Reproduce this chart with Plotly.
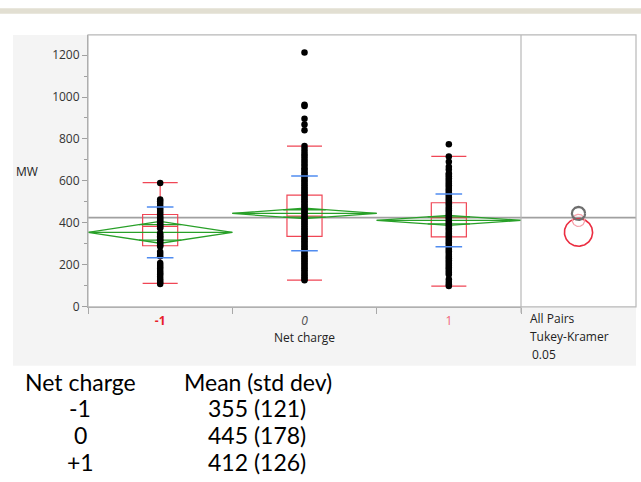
import numpy as np
import plotly.graph_objects as go

W, H = 641, 482

# ---------------- data ----------------
categories = [-1, 0, 1]
cat_labels = ['<span style="color:#e8202a"><b>-1</b></span>',
              '<span style="color:#505050"><i>0</i></span>',
              '<span style="color:#f2667a">1</span>']
group_means = [355, 445, 412]
group_sd = [121, 178, 126]
ci_half = [52, 25, 23.5]
circle_radius = [66, 31, 29]
q1 = [291, 336, 333]
median = [383, 432, 425]
q3 = [440, 532, 496]
lower_whisker = [112, 127, 99]
upper_whisker = [592, 766, 717]
grand_mean = 425

mw_m1 = [590, 512, 503, 492, 481, 470, 461, 452, 444, 434, 426, 419, 411, 403,
         396, 389, 381, 374, 351, 344, 336, 330, 322, 316, 309, 301, 294, 287,
         263, 252, 241, 209, 199, 190, 181, 171, 161, 154, 143, 133, 124, 116, 109]
mw_0 = [127, 133, 141, 149, 157, 166, 174, 183, 190, 199, 207, 216, 223, 231,
        240, 247, 256, 263, 272, 279, 288, 295, 304, 311, 320, 327, 336, 343,
        352, 359, 368, 375, 384, 391, 400, 407, 416, 423, 432, 439, 448, 455,
        464, 471, 480, 487, 496, 503, 512, 519, 528, 535, 545, 552, 561, 569,
        579, 587, 597, 605, 615, 623, 633, 641, 652, 661, 672, 682, 694, 704,
        716, 727, 739, 752, 766, 842, 869, 896, 957, 963, 1212]
mw_p1 = [99, 107, 118, 131, 154, 162, 171, 180, 188, 197, 205, 214, 222, 231,
         239, 248, 256, 265, 273, 282, 290, 299, 307, 316, 324, 333, 341, 350,
         358, 367, 375, 384, 392, 401, 409, 418, 426, 435, 443, 452, 460, 469,
         477, 486, 494, 503, 511, 520, 528, 537, 545, 554, 562, 571, 579, 588,
         596, 605, 613, 622, 630, 637, 654, 668, 691, 717, 775]
groups_mw = [mw_m1, mw_0, mw_p1]

table_header = ['Net charge', 'Mean (std dev)']
table_rows = ['-1', '0', '+1']

# ---------------- layout geometry ----------------
def px(x):
    return x / W

def py(y):
    return 1 - y / H

PL, PR, PD, PT, PB = 88, 636, 521, 35.5, 312
y_max = 1296
x2_half = (PR - PD) / ((PB - PT) / y_max) / 2

fig = go.Figure()

green = 'rgb(40,160,40)'
# mean diamonds
dx, dy = [], []
for c, m, h in zip(categories, group_means, ci_half):
    k = 1 / np.sqrt(2)
    dx += [c - 0.5, c, c + 0.5, c, c - 0.5, None,
           c - 0.5, c + 0.5, None,
           c - 0.5 * (1 - k), c + 0.5 * (1 - k), None,
           c - 0.5 * (1 - k), c + 0.5 * (1 - k), None]
    dy += [m, m + h, m, m - h, m, None,
           m, m, None,
           m + h * k, m + h * k, None,
           m - h * k, m - h * k, None]
fig.add_trace(go.Scatter(x=dx, y=dy, mode='lines',
                         line=dict(color=green, width=1.3),
                         hoverinfo='skip', showlegend=False))

# points
for c, vals in zip(categories, groups_mw):
    fig.add_trace(go.Scatter(x=[c] * len(vals), y=vals, mode='markers',
                             marker=dict(color='black', size=6.5),
                             showlegend=False))

# box plots
fig.add_trace(go.Box(x=categories, q1=q1, median=median, q3=q3,
                     lowerfence=lower_whisker, upperfence=upper_whisker,
                     width=0.243, whiskerwidth=1, boxpoints=False,
                     line=dict(color='rgb(240,70,85)', width=1.2),
                     fillcolor='rgba(0,0,0,0)', showlegend=False))

# mean +- sd marks
bx, by = [], []
for c, m, s in zip(categories, group_means, group_sd):
    bx += [c, c]
    by += [m + s, m - s]
fig.add_trace(go.Scatter(x=bx, y=by, mode='markers',
                         marker=dict(symbol='line-ew', size=19,
                                     line=dict(color='rgb(80,140,240)', width=1.5)),
                         showlegend=False))

# comparison circles
t = np.linspace(0, 2 * np.pi, 120)
circle_colors = ['rgb(235,45,65)', 'rgb(110,110,110)', 'rgb(245,160,170)']
circle_widths = [1.6, 2.2, 1.2]
for i in [0, 2, 1]:
    m, r = group_means[i], circle_radius[i]
    fig.add_trace(go.Scatter(x=r * np.cos(t), y=m + r * np.sin(t), mode='lines',
                             xaxis='x2', yaxis='y',
                             line=dict(color=circle_colors[i], width=circle_widths[i]),
                             hoverinfo='skip', showlegend=False))

shapes = [
    dict(type='rect', xref='paper', yref='paper', x0=0, x1=1, y0=py(14), y1=py(8.5),
         fillcolor='#e2dfd2', line=dict(width=0), layer='below'),
    dict(type='rect', xref='paper', yref='paper', x0=px(13), x1=px(PR), y0=py(372), y1=py(PT),
         fillcolor='#f4f4f4', line=dict(width=0), layer='below'),
    dict(type='rect', xref='paper', yref='paper', x0=px(PL), x1=px(PR), y0=py(PB), y1=py(PT),
         fillcolor='white', line=dict(width=0), layer='below'),
    dict(type='line', xref='paper', yref='y', x0=px(PL), x1=px(PR), y0=grand_mean, y1=grand_mean,
         line=dict(color='#a0a0a0', width=1.6), layer='below'),
    dict(type='rect', xref='paper', yref='paper', x0=px(PL), x1=px(PR), y0=py(PB), y1=py(PT),
         line=dict(color='#b8b8b8', width=1.2), layer='above'),
    dict(type='line', xref='paper', yref='paper', x0=px(PD), x1=px(PD), y0=py(318), y1=py(PT),
         line=dict(color='#b8b8b8', width=1.2), layer='above'),
]

font_ui = 'Open Sans, Noto Sans, sans-serif'
ann = [
    dict(text='MW', x=px(27), y=py(174)),
    dict(text='Net charge', x=px(304), y=py(343)),
    dict(text='All Pairs', x=px(528), y=py(324), xanchor='left'),
    dict(text='Tukey-Kramer', x=px(528), y=py(342), xanchor='left'),
    dict(text='0.05', x=px(530), y=py(360), xanchor='left'),
]
annotations = []
for a in ann:
    d = dict(xref='paper', yref='paper', showarrow=False, xanchor='center', yanchor='middle',
             font=dict(family=font_ui, size=12, color='#222'))
    d.update(a)
    annotations.append(d)

font_tab = dict(family='Lato, sans-serif', size=23, color='black')

def tab_text(text, x, y):
    return dict(text=text, x=px(x), y=py(y), xref='paper', yref='paper',
                xanchor='center', yanchor='middle', showarrow=False, font=font_tab)

annotations.append(tab_text(table_header[0], 80, 388))
annotations.append(tab_text(table_header[1], 258, 388))
for i, (lab, m, s) in enumerate(zip(table_rows, group_means, group_sd)):
    yy = [415, 442, 470][i]
    annotations.append(tab_text(lab, 80, yy))
    annotations.append(tab_text(f'{m} ({s})', 257, yy))

fig.update_layout(
    width=W, height=H, autosize=False,
    margin=dict(l=0, r=0, t=0, b=0),
    paper_bgcolor='white', plot_bgcolor='white',
    showlegend=False,
    shapes=shapes, annotations=annotations,
    xaxis=dict(domain=[px(PL), px(PD)], range=[-1.5, 1.5], anchor='y',
               tickmode='array', tickvals=categories, ticktext=cat_labels,
               ticks='outside', ticklen=0, tickfont=dict(family=font_ui, size=12),
               ticklabelstandoff=3,
               showgrid=False, zeroline=False, showline=True, linecolor='#a8a8a8',
               minor=dict(tickmode='array', tickvals=[-1.5, -0.5, 0.5, 1.5],
                          ticks='outside', ticklen=6, tickcolor='#a8a8a8', showgrid=False),
               fixedrange=True),
    xaxis2=dict(domain=[px(PD), px(PR)], range=[-x2_half, x2_half], anchor='y',
                showticklabels=False, ticks='', showgrid=False, zeroline=False,
                showline=False),
    yaxis=dict(domain=[py(PB), py(PT)], range=[0, y_max], anchor='x',
               tickmode='array', tickvals=[0, 200, 400, 600, 800, 1000, 1200],
               ticks='outside', ticklen=5, tickcolor='#a0a0a0',
               tickfont=dict(family=font_ui, size=12, color='#333'),
               showgrid=False, zeroline=False, showline=True, linecolor='#a0a0a0',
               minor=dict(tickmode='array', tickvals=[100, 300, 500, 700, 900, 1100],
                          ticks='outside', ticklen=3, tickcolor='#a0a0a0', showgrid=False)),
)

post = ("document.documentElement.style.margin='0';"
        "document.body.style.margin='0';"
        "document.documentElement.style.overflow='hidden';"
        "document.body.style.overflow='hidden';"
        "var gd=document.getElementsByClassName('plotly-graph-div')[0];"
        "gd.style.position='fixed';gd.style.top='0px';gd.style.left='0px';"
        "Plotly.relayout(gd,{width:window.innerWidth,height:window.innerHeight});")
fig.write_html('out.html', config={'displayModeBar': False}, post_script=post)
